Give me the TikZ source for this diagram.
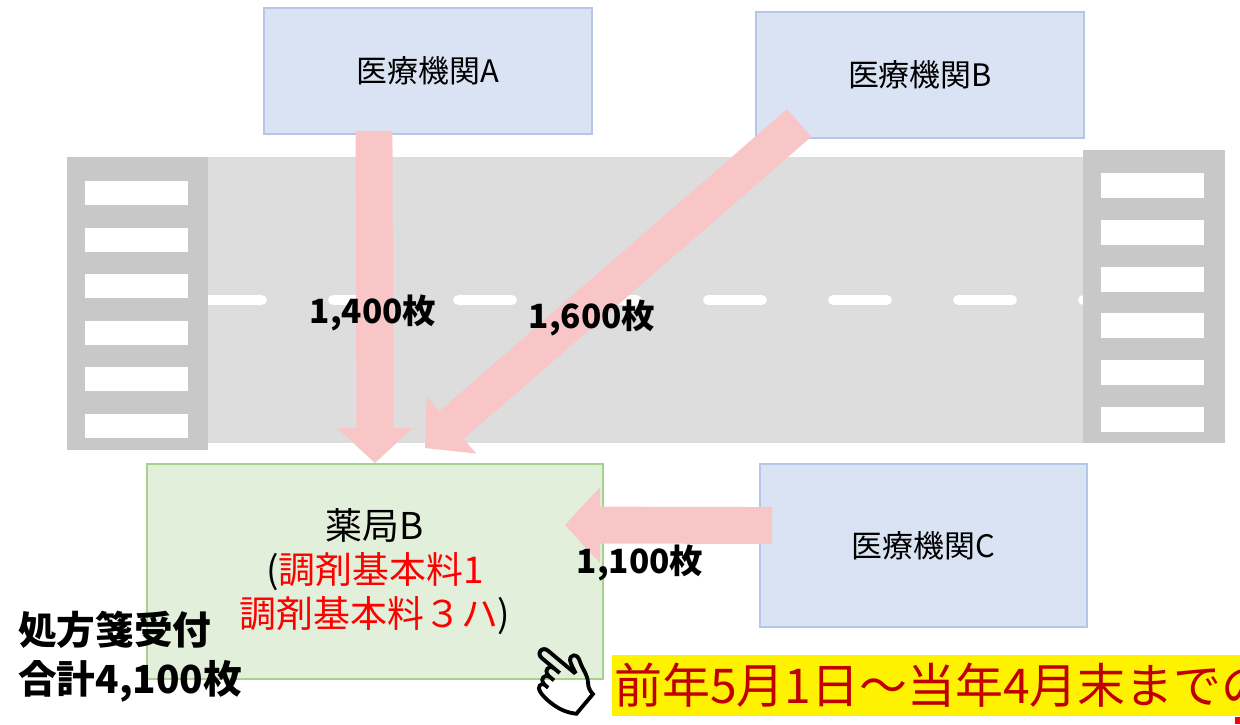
\documentclass[tikz,border=0pt]{standalone}
\usepackage{fontspec}
\setmainfont{Noto Sans CJK JP}
\newfontfamily\emojifont[FakeBold=2.5]{Noto Emoji}
\usetikzlibrary{positioning,arrows.meta,calc}

\definecolor{clinicfill}{HTML}{DAE3F3}
\definecolor{clinicline}{HTML}{B4C7E7}
\definecolor{shopfill}{HTML}{E2EFDA}
\definecolor{shopline}{HTML}{A9D18E}
\definecolor{flowpink}{HTML}{F8C6C7}
\definecolor{roadgray}{HTML}{DDDDDD}
\definecolor{zebragray}{HTML}{C8C8C8}
\definecolor{notered}{HTML}{C00000}

\begin{document}
\begin{tikzpicture}[x=0.02cm, y=-0.02cm,
  clinic/.style={draw=clinicline, line width=1.1pt, fill=clinicfill, minimum width=6.56cm, minimum height=2.52cm, font=\fontsize{17.6}{20}\selectfont},
  flow/.style={draw=flowpink, line width=21pt, -{Triangle[length=20pt, width=42pt]}},
  count/.style={font=\fontsize{19}{22}\selectfont\bfseries}]
  \useasboundingbox (0,0) rectangle (1240,724);

  % road with centre line
  \fill[roadgray] (200,157) rectangle (1090,443);
  \foreach \s in {203,328,...,1078}
    \draw[white, line width=6.2pt, line cap=round] (\s+5.5,300) -- (\s+58.5,300);

  % zebra crossings
  \fill[zebragray] (67,157) rectangle (208,450);
  \foreach \y in {181,227.6,...,415}
    \fill[white] (85,\y) rectangle (188,\y+24);
  \fill[zebragray] (1083,150) rectangle (1225,443);
  \foreach \y in {173,219.8,...,408}
    \fill[white] (1101,\y) rectangle (1204,\y+25);

  \node[clinic] (clinicA) at (428,71) {医療機関A};
  \node[clinic] (clinicB) at (920,75) {医療機関B};
  \node[clinic, minimum width=6.54cm, minimum height=3.26cm] (clinicC) at (923.5,545.5) {医療機関C};
  \node[draw=shopline, line width=1.1pt, fill=shopfill, minimum width=9.12cm, minimum height=4.3cm, align=center, font=\fontsize{21}{25.2}\selectfont] (pharmacy) at (375,571.5)
    {薬局B\\(\textcolor{red}{調剤基本料1}\\\textcolor{red}{調剤基本料３ハ})};

  \draw[flow] ($(clinicA.south)+(-54,-4)$) -- (pharmacy.north);
  \draw[flow] ($(clinicB.south west)+(44,-16)$) -- ($(pharmacy.north)+(50,-15)$);
  \draw[flow] ($(clinicC.west)+(13,-20)$) -- ($(pharmacy.east)+(-39,-46.5)$);

  \node[count] (countA) at (373,313) {1,400枚};
  \node[count] (countB) at (592,318) {1,600枚};
  \node[count] (countC) at (640,563) {1,100枚};

  \node[anchor=west, align=left, font=\fontsize{22}{27.8}\selectfont\bfseries] (total) at (12,657) {処方箋受付\\合計4,100枚};

  % period note
  \node[rotate=-40, font=\emojifont\fontsize{34}{34}\selectfont] (hand) at (562,678) {👈};
  \node[anchor=west, fill=yellow, text=notered, inner xsep=1pt, inner ysep=0pt, minimum height=1.22cm, font=\fontsize{27.3}{30}\selectfont] (period) at (612,685.5) {前年5月1日～当年4月末までの};
  \fill[red] (1235,717) rectangle (1240,724);
\end{tikzpicture}
\end{document}
